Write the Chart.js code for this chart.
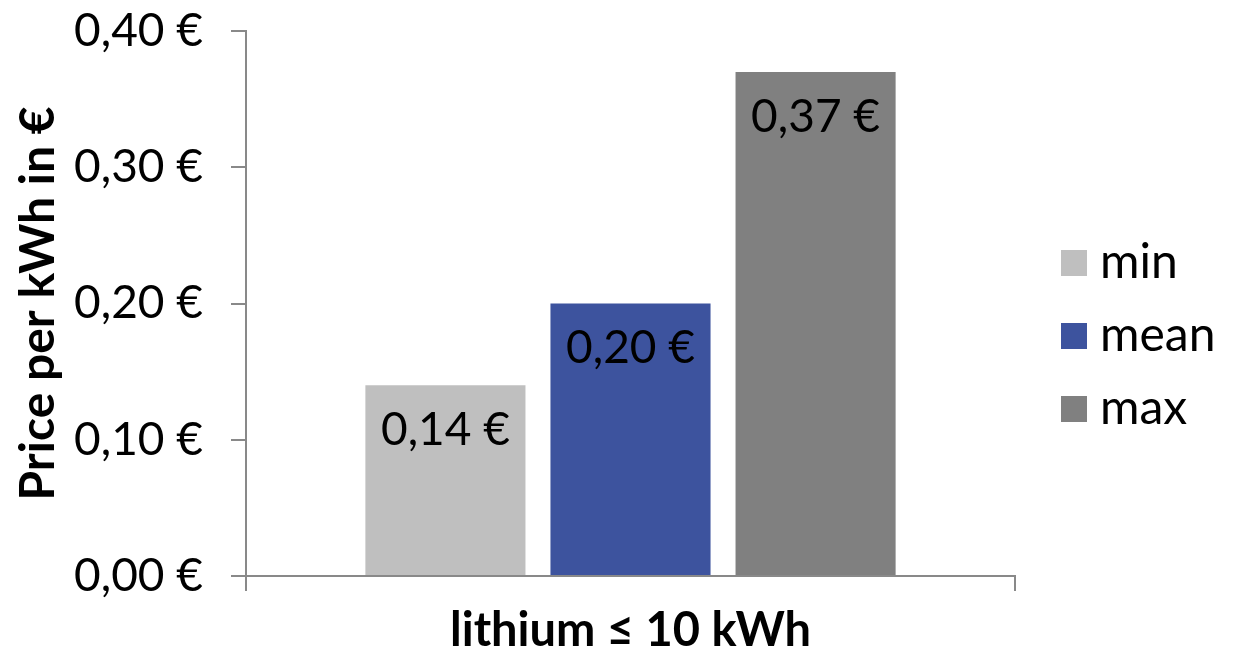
<!DOCTYPE html>
<html>
<head>
<meta charset="utf-8">
<script src="https://cdn.jsdelivr.net/npm/chart.js@4"></script>
<style>
  html, body { margin: 0; padding: 0; background: #fff; }
  #wrap { width: 1239px; height: 659px; position: relative; }
</style>
</head>
<body>
<div id="wrap"><canvas id="priceChart"></canvas></div>
<script>
// Preisdaten Lithium-Speicher bis 10 kWh
const categories = ['lithium \u2264 10 kWh'];
const seriesNames = ['min', 'mean', 'max'];
const minValues = [0.14];
const meanValues = [0.20];
const maxValues = [0.37];
const seriesColors = ['#bfbfbf', '#3d539e', '#808080'];
const yTicks = [0, 0.1, 0.2, 0.3, 0.4];

const FONT = "Lato, 'Open Sans', sans-serif";
const axisColor = '#898989';

const euro = v => v.toFixed(2).replace('.', ',') + ' \u20ac';

// Werte oben in den Balken schreiben
const barLabels = {
    id: 'barLabels',
    afterDatasetsDraw(chart) {
        const ctx = chart.ctx;
        ctx.save();
        ctx.font = '46px ' + FONT;
        ctx.fillStyle = '#000';
        ctx.textAlign = 'center';
        ctx.textBaseline = 'top';
        chart.data.datasets.forEach((ds, i) => {
            chart.getDatasetMeta(i).data.forEach((bar, j) => {
                ctx.fillText(euro(ds.data[j]), bar.x, bar.y + 22);
            });
        });
        ctx.restore();
    }
};

// Legende rechts, untereinander
const sideLegend = {
    id: 'sideLegend',
    afterDraw(chart) {
        const ctx = chart.ctx;
        ctx.save();
        ctx.font = '48px ' + FONT;
        ctx.textBaseline = 'middle';
        chart.data.datasets.forEach((ds, i) => {
            const y = 263 + i * 73;
            ctx.fillStyle = ds.backgroundColor;
            ctx.fillRect(1061, y - 13, 26, 26);
            ctx.fillStyle = '#000';
            ctx.fillText(ds.label, 1100, y);
        });
        ctx.restore();
    }
};

const config = {
    type: 'bar',
    data: {
        labels: categories,
        datasets: [
            { label: seriesNames[0], data: minValues, backgroundColor: seriesColors[0] },
            { label: seriesNames[1], data: meanValues, backgroundColor: seriesColors[1] },
            { label: seriesNames[2], data: maxValues, backgroundColor: seriesColors[2] }
        ]
    },
    options: {
        responsive: true,
        maintainAspectRatio: false,
        animation: false,
        layout: {
            padding: { top: 31, right: 224, bottom: 0, left: 0 }
        },
        plugins: {
            legend: { display: false },
            tooltip: { enabled: false }
        },
        datasets: {
            bar: {
                categoryPercentage: 0.722,
                barPercentage: 0.865
            }
        },
        scales: {
            x: {
                afterFit(scale) { scale.height = 83; },
                border: { color: axisColor, width: 2 },
                grid: {
                    offset: true,
                    drawOnChartArea: false,
                    drawTicks: true,
                    tickLength: 15,
                    color: axisColor,
                    lineWidth: 2
                },
                ticks: { display: false },
                title: {
                    display: true,
                    text: categories[0],
                    color: '#000',
                    font: { family: FONT, size: 47, weight: 'bold' },
                    padding: { top: 36, bottom: 0 }
                }
            },
            y: {
                min: 0,
                max: 0.4,
                afterFit(scale) {
                    scale.width = 246;
                    scale.paddingTop = 0;
                    scale.paddingBottom = 0;
                },
                afterBuildTicks(scale) {
                    scale.ticks = yTicks.map(v => ({ value: v }));
                },
                border: { color: axisColor, width: 2 },
                grid: {
                    drawOnChartArea: false,
                    drawTicks: true,
                    tickLength: 15,
                    color: axisColor,
                    lineWidth: 2
                },
                ticks: {
                    color: '#000',
                    padding: 28,
                    font: { family: FONT, size: 46 },
                    callback: v => euro(v)
                },
                title: {
                    display: true,
                    text: 'Price per kWh in \u20ac',
                    color: '#000',
                    font: { family: FONT, size: 48, weight: 'bold' },
                    padding: { top: 10, bottom: 0 }
                }
            }
        }
    },
    plugins: [barLabels, sideLegend]
};

new Chart(document.getElementById('priceChart'), config);
</script>
</body>
</html>
